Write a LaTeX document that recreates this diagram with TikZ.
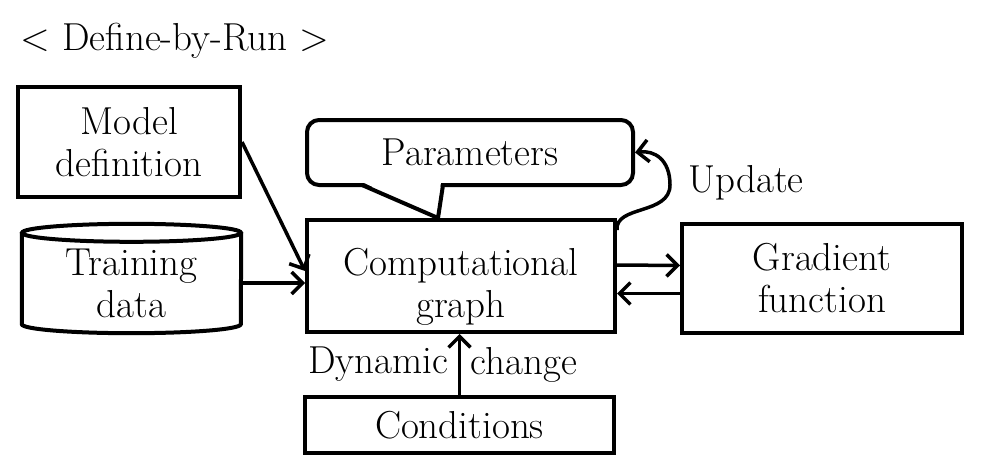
\documentclass[tikz,border=0pt]{standalone}
\usepackage{fontspec}
\usetikzlibrary{arrows.meta,calc}
\begin{document}
\begin{tikzpicture}[x=1pt,y=-1pt,font=\fontsize{39}{42}\selectfont,
	box/.style={draw,line width=4pt,align=center,inner sep=0pt},
	flow/.style={line width=3.5pt,-{Straight Barb[length=11pt,width=22pt,line width=3.5pt]}}]
	\useasboundingbox (0,0) rectangle (992,460);
	\node at (175,41) (title) {< Define-by-Run >};
	\node[box,minimum width=222pt,minimum height=110pt] at (129,142) (model) {Model\\definition};
	\node[align=center,inner sep=0pt,minimum width=219pt,minimum height=100pt] at (131.5,283) (data) {Training\\data};
	\node[box,minimum width=308pt,minimum height=112pt] at (461,276) (graph) {\rule{0pt}{48pt}Computational\\graph};
	\node[box,minimum width=280pt,minimum height=109pt] at (822,278.5) (grad) {Gradient\\function};
	\node[box,minimum width=309pt,minimum height=56pt] at (459.5,425) (cond) {Conditions};
	\node[box,rounded corners=12pt,minimum width=326pt,minimum height=65pt] at (470,152.5) (param) {Parameters};
	\node at (746,183) (upd) {Update};

	% cylinder round the training data
	\draw[line width=4pt] (data.north west) -- ($(data.south west)+(0,-9)$)
		arc[start angle=180,end angle=360,x radius=109.5pt,y radius=9pt] -- (data.north east);
	\draw[line width=4pt] (data.north) ellipse[x radius=109.5pt,y radius=9pt];

	% pointer of the callout
	\coordinate (tip) at ($(graph.north)+(-23,0)$);
	\fill[white] ($(param.south west)+(55,-6)$) -- ($(param.south west)+(136,-6)$) -- (tip) -- cycle;
	\draw[line width=4pt,line join=round] ($(param.south west)+(57,-2)$) -- (tip) -- ($(param.south west)+(138,-2)$);

	\draw[flow] (model.east) -- ($(graph.west)+(0,-5)$);
	\draw[flow] (data.east) -- (data.east -| graph.west);
	\draw[flow] ($(graph.east)+(0,-11)$) -- ($(grad.west)+(0,-13)$);
	\draw[flow] ($(grad.west)+(0,15)$) -- ($(graph.east)+(0,17.5)$);
	\path[flow] (cond.north) edge node[left,xshift=-6pt] {Dynamic} node[right,xshift=6pt] {change} (cond.north |- graph.south);
	\draw[flow] ($(graph.north east)+(0,12)$) .. controls (615,205) and (670,215) .. (670,185)
		.. controls (670,160) and (655,150) .. (param.east);
\end{tikzpicture}
\end{document}
